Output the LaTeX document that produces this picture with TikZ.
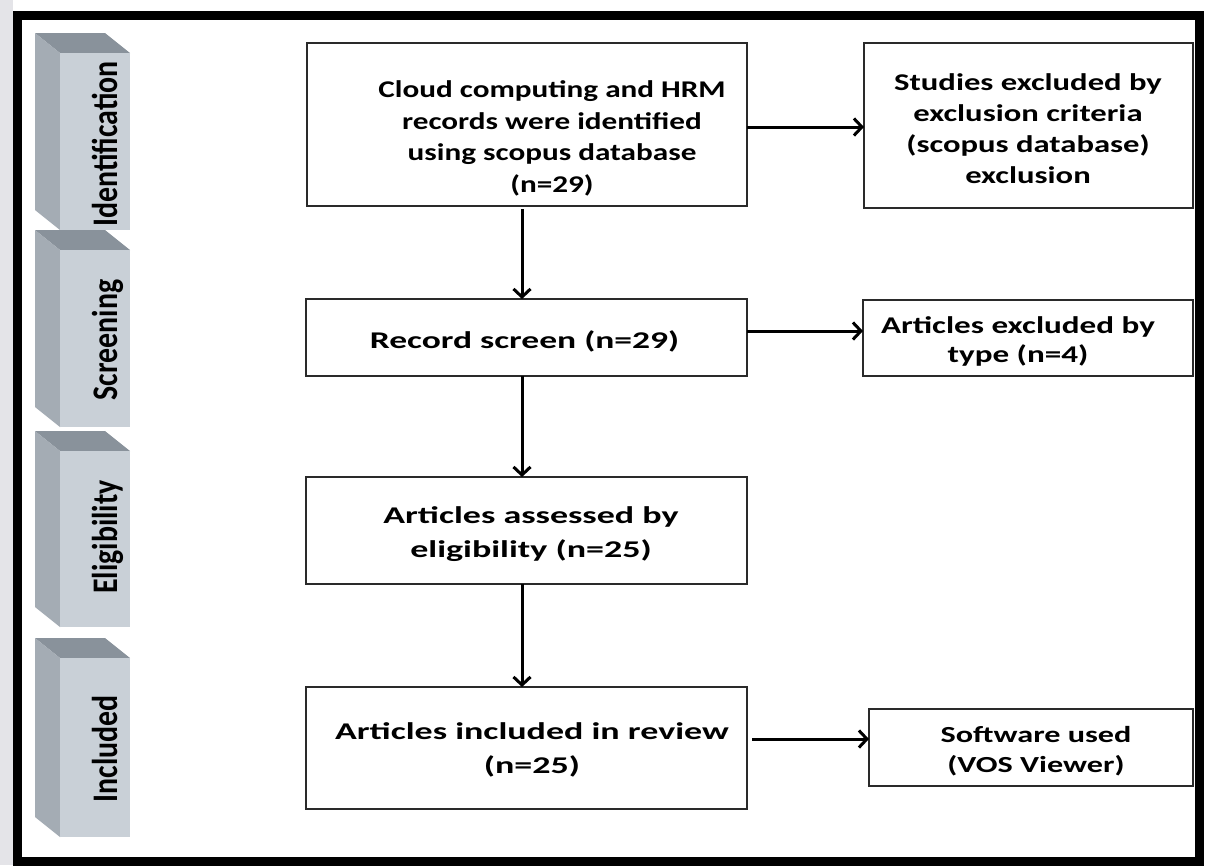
\documentclass[tikz,border=0pt]{standalone}
\usepackage{fontspec}
\setmainfont{Carlito}
\usetikzlibrary{arrows.meta}

\definecolor{barfront}{HTML}{C9D0D7}
\definecolor{barside}{HTML}{A4ACB4}
\definecolor{bartop}{HTML}{89929B}
\definecolor{edgestrip}{HTML}{E4E4E8}
\definecolor{boxline}{HTML}{2A2A2A}

% bold Carlito, horizontally stretched: stretch, size, line skip
\newcommand\flowfont[3]{\fontspec{Carlito}[FakeStretch=#1]\bfseries\fontsize{#2}{#3}\selectfont}

% 3D phase bar: top and bottom of the front face
\newcommand\phasebar[2]{%
  \fill[bartop] (60,#1) -- (35,#1-20) -- (105,#1-20) -- (130,#1) -- cycle;
  \fill[barside] (60,#1) -- (35,#1-20) -- (35,#2-20) -- (60,#2) -- cycle;
  \fill[barfront] (60,#1) rectangle (130,#2);}

\tikzset{
  flowbox/.style={draw=boxline, line width=1.5pt, fill=white, inner sep=0pt, outer sep=0pt},
  % anchored at the baseline of the last line
  flowtext/.style={align=center, inner sep=0pt, anchor=base},
  phasetext/.style={rotate=90, anchor=base, inner sep=0pt, font=\flowfont{0.83}{36}{40}},
  arr/.style={line width=3pt, -{Straight Barb[length=8pt,width=17pt]}}
}

\begin{document}
\begin{tikzpicture}[x=1pt, y=-1pt]
\useasboundingbox (0,0) rectangle (1210,865);
\fill[white] (0,0) rectangle (1210,865);
\fill[edgestrip] (0,0) rectangle (13,865);

% phase bars
\phasebar{53}{230}
\phasebar{250}{427}
\phasebar{451}{627}
\phasebar{658}{837}
\node[phasetext] (pid) at (117,144) {Identification};
\node[phasetext] (pscr) at (117,340) {Screening};
\node[phasetext] (peli) at (117,537) {Eligibility};
\node[phasetext] (pinc) at (117,749) {Included};

% boxes
\node[flowbox, minimum width=440pt, minimum height=163pt] (id) at (527,124.5) {};
\node[flowbox, minimum width=329pt, minimum height=165pt] (exc) at (1028.5,125.5) {};
\node[flowbox, minimum width=441pt, minimum height=77pt] (rec) at (526.5,337.5) {};
\node[flowbox, minimum width=330pt, minimum height=76pt] (typ) at (1028,338) {};
\node[flowbox, minimum width=441pt, minimum height=107pt] (eli) at (526.5,530.5) {};
\node[flowbox, minimum width=441pt, minimum height=122pt] (inc) at (526.5,748) {};
\node[flowbox, minimum width=324pt, minimum height=77pt] (sw) at (1031,747.5) {};

% box texts
\node[flowtext, font=\flowfont{1.3}{24}{31.5}] (idtxt) at (552,192)
  {Cloud computing and HRM\\records were identified\\using scopus database\\(n=29)};
\node[flowtext, font=\flowfont{1.36}{24}{31}] (exctxt) at (1028,183)
  {Studies excluded by\\exclusion criteria\\(scopus database)\\exclusion};
\node[flowtext, font=\flowfont{1.48}{24}{30}] (rectxt) at (524.5,348)
  {Record screen (n=29)};
\node[flowtext, font=\flowfont{1.38}{24}{29}] (typtxt) at (1018,362)
  {Articles excluded by\\type (n=4)};
\node[flowtext, font=\flowfont{1.5}{24}{34}] (elitxt) at (531,557)
  {Articles assessed by\\eligibility (n=25)};
\node[flowtext, font=\flowfont{1.5}{24}{34}] (inctxt) at (532,773)
  {Articles included in review\\(n=25)};
\node[flowtext, font=\flowfont{1.4}{23}{30}] (swtxt) at (1036,772)
  {Software used\\(VOS Viewer)};

% connector guides
\coordinate (spine) at (522,0);
\coordinate (row1) at (0,127);
\coordinate (row2) at (0,331);
\coordinate (row4) at (0,739);

\draw[arr, shorten <=3pt] (id.south -| spine) -- (rec.north -| spine);
\draw[arr] (rec.south -| spine) -- (eli.north -| spine);
\draw[arr] (eli.south -| spine) -- (inc.north -| spine);
\draw[arr] (id.east |- row1) -- (exc.west |- row1);
\draw[arr] (rec.east |- row2) -- (typ.west |- row2);
\draw[arr, shorten <=5pt] (inc.east |- row4) -- (sw.west |- row4);

% outer frame
\draw[line width=9pt] (17.5,15) rectangle (1199.5,861.5);
\end{tikzpicture}
\end{document}
